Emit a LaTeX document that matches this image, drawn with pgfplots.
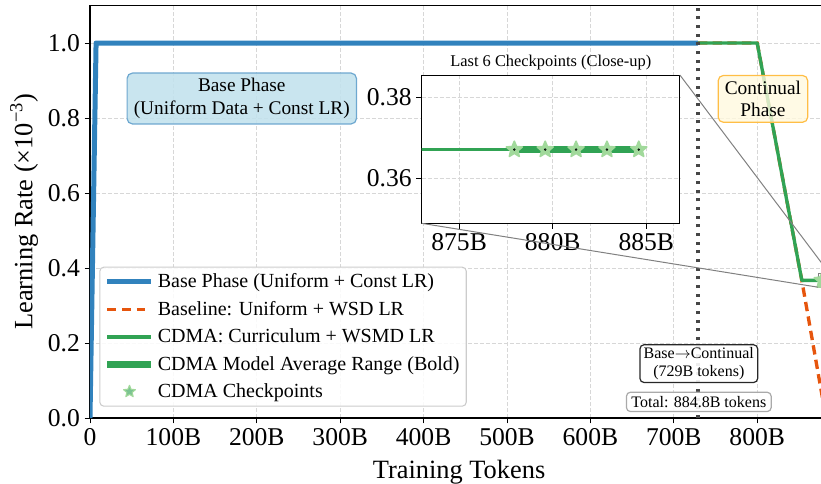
\documentclass[border=0pt]{standalone}
\usepackage{fontspec}
\setmainfont{Liberation Serif}
\usepackage{pgfplots}
\pgfplotsset{compat=1.18}
\usetikzlibrary{plotmarks}
\definecolor{bluec}{RGB}{49,130,189}
\definecolor{orangec}{RGB}{230,85,13}
\definecolor{greenc}{RGB}{49,163,84}
\definecolor{starfill}{RGB}{161,217,155}
\definecolor{gridc}{RGB}{215,215,215}
\definecolor{basefill}{RGB}{195,226,237}
\definecolor{baseedge}{RGB}{110,168,208}
\definecolor{contfill}{RGB}{255,249,222}
\definecolor{contedge}{RGB}{255,190,70}
\definecolor{vline}{RGB}{70,70,70}
\pgfdeclareplotmark{fstar}{%
  \pgfpathmoveto{\pgfpointpolar{90}{\pgfplotmarksize}}%
  \pgfpathlineto{\pgfpointpolar{126}{0.45\pgfplotmarksize}}%
  \pgfpathlineto{\pgfpointpolar{162}{\pgfplotmarksize}}%
  \pgfpathlineto{\pgfpointpolar{198}{0.45\pgfplotmarksize}}%
  \pgfpathlineto{\pgfpointpolar{234}{\pgfplotmarksize}}%
  \pgfpathlineto{\pgfpointpolar{270}{0.45\pgfplotmarksize}}%
  \pgfpathlineto{\pgfpointpolar{306}{\pgfplotmarksize}}%
  \pgfpathlineto{\pgfpointpolar{342}{0.45\pgfplotmarksize}}%
  \pgfpathlineto{\pgfpointpolar{18}{\pgfplotmarksize}}%
  \pgfpathlineto{\pgfpointpolar{54}{0.45\pgfplotmarksize}}%
  \pgfpathclose
  \pgfusepathqfillstroke
}
\pgfplotsset{
  common/.style={
    scale only axis,
    /pgf/number format/assume math mode=true,
    tick align=outside,
    major tick length=4pt,
    tick style={black, line width=0.6pt},
    xtick pos=bottom, ytick pos=left,
    ticklabel style={font=\fontsize{19.2}{22}\selectfont},
    grid=major,
    major grid style={gridc, line width=0.6pt, dash pattern=on 3pt off 1.5pt},
    axis line style={line width=0.8pt},
  }
}
\begin{document}
\begin{tikzpicture}
\begin{axis}[
  common,
  width=553.6pt, height=309.4pt,
  xmin=0, xmax=885, ymin=0, ymax=1.1,
  xtick={0,100,200,300,400,500,600,700,800},
  xticklabels={0,100B,200B,300B,400B,500B,600B,700B,800B},
  ytick={0,0.2,0.4,0.6,0.8,1.0},
  yticklabels={0.0,0.2,0.4,0.6,0.8,1.0},
  xlabel={Training Tokens},
  ylabel={Learning Rate (×10\textsuperscript{−3})},
  label style={font=\fontsize{19.8}{22}\selectfont},
  xlabel style={at={(axis description cs:0.5,-0.132)}, anchor=center},
  ylabel style={at={(axis description cs:-0.0894,0.5)}, anchor=center},
  legend cell align=left,
  legend style={at={(axis description cs:0.0126,0.0274)}, anchor=south west,
    draw={rgb,255:red,204;green,204;blue,204}, line width=0.8pt, rounded corners=3pt,
    fill=white, fill opacity=0.85, text opacity=1,
    font=\fontsize{15}{17}\selectfont,
    inner xsep=3pt, inner ysep=3pt, row sep=4.6pt,
    /tikz/every even column/.append style={column sep=7pt}},
]
\addplot[bluec, line width=3.75pt, line join=round,
  legend image code/.code={\draw[bluec, line width=3.75pt] (0pt,0pt)--(33pt,0pt);}]
  coordinates {(0,0) (7.3,1.0) (729,1.0)};
\addlegendentry{Base Phase (Uniform + Const LR)}
\addplot[orangec, line width=2.5pt, dash pattern=on 7pt off 4pt,
  legend image code/.code={\draw[orangec, line width=2.5pt, dash pattern=on 6.5pt off 4.5pt] (0pt,0pt)--(33pt,0pt);}]
  coordinates {(729,1.0) (800,1.0) (853.5,0.367) (882.5,0.0)};
\addlegendentry{Baseline: Uniform + WSD LR}
\addplot[greenc, line width=2.5pt, line join=round,
  legend image code/.code={\draw[greenc, line width=2.5pt] (0pt,0pt)--(33pt,0pt);}]
  coordinates {(729,1.0) (800,1.0) (853.5,0.367) (884.8,0.367)};
\addlegendentry{CDMA: Curriculum + WSMD LR}
\addplot[greenc, line width=5.5pt,
  legend image code/.code={\draw[greenc, line width=5.5pt] (0pt,0pt)--(33pt,0pt);}]
  coordinates {(877.95,0.367) (884.64,0.367)};
\addlegendentry{CDMA Model Average Range (Bold)}
\addplot[only marks, mark=fstar, mark size=6.3pt,
  mark options={fill=starfill, draw=starfill, line width=1.2pt, line join=round},
  legend image code/.code={\draw[only marks, mark=fstar, mark size=4.7pt, mark options={fill=greenc!75!white, draw=starfill, line width=0.8pt, line join=round}] plot coordinates {(16.5pt,0pt)};}]
  coordinates {(877.95,0.367) (879.6,0.367) (881.25,0.367) (882.9,0.367) (884.6,0.367)};
\addlegendentry{CDMA Checkpoints}
\addplot[vline, line width=2.3pt, dash pattern=on 2.3pt off 4.2pt, forget plot]
  coordinates {(729,0) (729,1.1)};
\draw[gray, line width=0.75pt] (axis cs:873,0.3488) rectangle (axis cs:886.8,0.3854);
\node[draw=baseedge, fill=basefill, fill opacity=0.9, text opacity=1, rounded corners=4pt,
  line width=0.9pt, align=center, inner xsep=5pt, inner ysep=4pt,
  font=\fontsize{14.5}{17}\selectfont] at (axis cs:182,0.852)
  {Base Phase\\(Uniform Data + Const LR)};
\node[draw=contedge, fill=contfill, fill opacity=0.8, text opacity=1, rounded corners=4pt,
  line width=0.9pt, align=center, inner xsep=5pt, inner ysep=4pt,
  font=\fontsize{14.5}{17}\selectfont] at (axis cs:806.9,0.851)
  {Continual\\Phase};
\node[draw={rgb,255:red,40;green,40;blue,40}, fill=white, fill opacity=0.9, text opacity=1, rounded corners=3pt,
  line width=0.9pt, align=center, inner xsep=2.8pt, inner ysep=2.2pt,
  font=\fontsize{12}{13}\selectfont] at (axis cs:730,0.145)
  {Base$\rightarrow$Continual\\(729B tokens)};
\node[draw={rgb,255:red,170;green,170;blue,170}, fill=white, fill opacity=0.9, text opacity=1, rounded corners=3pt,
  line width=0.9pt, align=center, inner xsep=3.7pt, inner ysep=3pt,
  font=\fontsize{12}{13}\selectfont] at (axis cs:730,0.043)
  {Total: 884.8B tokens};
\coordinate (insetSW) at (axis cs:397.7,0.5192);
\coordinate (rTR) at (axis cs:886.8,0.3854);
\coordinate (rBL) at (axis cs:873,0.3488);
\coordinate (bbSW) at (axis cs:-107.9,-0.1733);
\coordinate (bbNE) at (axis cs:876.5,1.1147);
\end{axis}
\begin{axis}[
  common,
  at={(insetSW)}, anchor=south west,
  width=193.7pt, height=111.2pt,
  xmin=873, xmax=886.8, ymin=0.3488, ymax=0.3854,
  xtick={875,880,885}, xticklabels={875B,880B,885B},
  ytick={0.36,0.38}, yticklabels={0.36,0.38},
  axis background/.style={fill=white},
  title={Last 6 Checkpoints (Close-up)},
  title style={font=\fontsize{12.3}{14}\selectfont, at={(0.5,1)}, anchor=south, yshift=-6pt},
]
\addplot[greenc, line width=2.75pt] coordinates {(870,0.367) (884.8,0.367)};
\addplot[greenc, line width=5pt] coordinates {(877.95,0.367) (884.64,0.367)};
\addplot[only marks, mark=fstar, mark size=6.3pt,
  mark options={fill=starfill, draw=starfill, line width=1.2pt, line join=round}]
  coordinates {(877.95,0.367) (879.6,0.367) (881.25,0.367) (882.9,0.367) (884.6,0.367)};
\addplot[only marks, mark=*, mark size=0.7pt, mark options={fill=greenc!70!black, draw=none}]
  coordinates {(877.95,0.367) (879.6,0.367) (881.25,0.367) (882.9,0.367) (884.6,0.367)};
\coordinate (iTR) at (rel axis cs:1,1);
\coordinate (iBL) at (rel axis cs:0,0);
\end{axis}
\draw[gray, line width=0.75pt] (iTR) -- (rTR);
\draw[gray, line width=0.75pt] (iBL) -- (rBL);
\pgfresetboundingbox
\path[use as bounding box] (bbSW) rectangle (bbNE);
\end{tikzpicture}
\end{document}
